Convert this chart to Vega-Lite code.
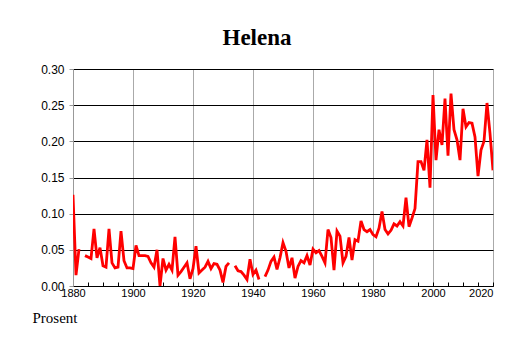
{
  "$schema": "https://vega.github.io/schema/vega-lite/v6.json",
  "autosize": "none",
  "width": 420,
  "height": 217,
  "padding": {"left": 73, "top": 69, "right": 21, "bottom": 57},
  "background": "white",
  "title": {"text": "Helena", "font": "Liberation Serif", "fontSize": 23, "fontWeight": "bold", "color": "black", "anchor": "middle", "dx": -26, "offset": 13},
  "data": {"values": [
    {"year":1880,"v":0.126},{"year":1881,"v":0.015},{"year":1882,"v":0.051},{"year":1883,"v":null},{"year":1884,"v":0.042},
    {"year":1885,"v":0.040},{"year":1886,"v":0.038},{"year":1887,"v":0.079},{"year":1888,"v":0.039},{"year":1889,"v":0.053},
    {"year":1890,"v":0.028},{"year":1891,"v":0.026},{"year":1892,"v":0.079},{"year":1893,"v":0.032},{"year":1894,"v":0.025},
    {"year":1895,"v":0.026},{"year":1896,"v":0.076},{"year":1897,"v":0.035},{"year":1898,"v":0.025},{"year":1899,"v":0.025},
    {"year":1900,"v":0.024},{"year":1901,"v":0.056},{"year":1902,"v":0.042},{"year":1903,"v":0.042},{"year":1904,"v":0.042},
    {"year":1905,"v":0.041},{"year":1906,"v":0.032},{"year":1907,"v":0.026},{"year":1908,"v":0.050},{"year":1909,"v":0.000},
    {"year":1910,"v":0.038},{"year":1911,"v":0.022},{"year":1912,"v":0.030},{"year":1913,"v":0.022},{"year":1914,"v":0.068},
    {"year":1915,"v":0.015},{"year":1916,"v":0.020},{"year":1917,"v":0.026},{"year":1918,"v":0.032},{"year":1919,"v":0.010},
    {"year":1920,"v":0.024},{"year":1921,"v":0.055},{"year":1922,"v":0.018},{"year":1923,"v":0.022},{"year":1924,"v":0.026},
    {"year":1925,"v":0.034},{"year":1926,"v":0.024},{"year":1927,"v":0.031},{"year":1928,"v":0.030},{"year":1929,"v":0.022},
    {"year":1930,"v":0.005},{"year":1931,"v":0.027},{"year":1932,"v":0.032},{"year":1933,"v":null},{"year":1934,"v":0.028},
    {"year":1935,"v":0.021},{"year":1936,"v":0.020},{"year":1937,"v":0.015},{"year":1938,"v":0.009},{"year":1939,"v":0.037},
    {"year":1940,"v":0.016},{"year":1941,"v":0.022},{"year":1942,"v":0.009},{"year":1943,"v":null},{"year":1944,"v":0.013},
    {"year":1945,"v":0.022},{"year":1946,"v":0.034},{"year":1947,"v":0.040},{"year":1948,"v":0.023},{"year":1949,"v":0.039},
    {"year":1950,"v":0.060},{"year":1951,"v":0.048},{"year":1952,"v":0.025},{"year":1953,"v":0.039},{"year":1954,"v":0.011},
    {"year":1955,"v":0.027},{"year":1956,"v":0.035},{"year":1957,"v":0.032},{"year":1958,"v":0.042},{"year":1959,"v":0.029},
    {"year":1960,"v":0.051},{"year":1961,"v":0.046},{"year":1962,"v":0.049},{"year":1963,"v":0.041},{"year":1964,"v":0.032},
    {"year":1965,"v":0.078},{"year":1966,"v":0.067},{"year":1967,"v":0.022},{"year":1968,"v":0.076},{"year":1969,"v":0.069},
    {"year":1970,"v":0.032},{"year":1971,"v":0.041},{"year":1972,"v":0.067},{"year":1973,"v":0.036},{"year":1974,"v":0.064},
    {"year":1975,"v":0.062},{"year":1976,"v":0.090},{"year":1977,"v":0.078},{"year":1978,"v":0.075},{"year":1979,"v":0.078},
    {"year":1980,"v":0.071},{"year":1981,"v":0.068},{"year":1982,"v":0.080},{"year":1983,"v":0.103},{"year":1984,"v":0.078},
    {"year":1985,"v":0.072},{"year":1986,"v":0.077},{"year":1987,"v":0.086},{"year":1988,"v":0.083},{"year":1989,"v":0.089},
    {"year":1990,"v":0.083},{"year":1991,"v":0.122},{"year":1992,"v":0.082},{"year":1993,"v":0.094},{"year":1994,"v":0.107},
    {"year":1995,"v":0.172},{"year":1996,"v":0.172},{"year":1997,"v":0.160},{"year":1998,"v":0.202},{"year":1999,"v":0.136},
    {"year":2000,"v":0.264},{"year":2001,"v":0.174},{"year":2002,"v":0.216},{"year":2003,"v":0.195},{"year":2004,"v":0.259},
    {"year":2005,"v":0.180},{"year":2006,"v":0.266},{"year":2007,"v":0.216},{"year":2008,"v":0.202},{"year":2009,"v":0.174},
    {"year":2010,"v":0.245},{"year":2011,"v":0.220},{"year":2012,"v":0.226},{"year":2013,"v":0.225},{"year":2014,"v":0.206},
    {"year":2015,"v":0.152},{"year":2016,"v":0.188},{"year":2017,"v":0.200},{"year":2018,"v":0.253},{"year":2019,"v":0.211},
    {"year":2020,"v":0.160}
  ]},
  "mark": {"type": "line", "color": "#ff0000", "strokeWidth": 2.8, "invalid": "break-paths-show-domains", "clip": true},
  "encoding": {
    "x": {
      "field": "year", "type": "quantitative",
      "scale": {"domain": [1880, 2020], "nice": false, "zero": false},
      "axis": {
        "title": null,
        "values": [1880,1885,1890,1895,1900,1905,1910,1915,1920,1925,1930,1935,1940,1945,1950,1955,1960,1965,1970,1975,1980,1985,1990,1995,2000,2005,2010,2015,2020],
        "labelExpr": "datum.value % 20 === 0 ? datum.value : ''",
        "labelAlign": {"condition": {"test": "datum.value === 2020", "value": "right"}, "value": "center"},
        "labelFont": "Liberation Sans", "labelFontSize": 11, "labelColor": "black",
        "labelPadding": 5, "labelFlush": false, "labelOverlap": false,
        "domainColor": "black", "domainWidth": 1.2,
        "tickColor": "black", "tickSize": -4,
        "grid": true,
        "gridColor": "#aaaaaa",
        "gridOpacity": {"condition": {"test": "datum.value % 20 === 0 && datum.value > 1880", "value": 1}, "value": 0},
        "gridWidth": 1
      }
    },
    "y": {
      "field": "v", "type": "quantitative",
      "scale": {"domain": [0, 0.3], "nice": false},
      "axis": {
        "title": "Prosent",
        "titleAngle": 0, "titleX": -41, "titleY": 253, "titleAlign": "left", "titleBaseline": "alphabetic",
        "titleFont": "Liberation Serif", "titleFontSize": 15, "titleFontWeight": "normal", "titleColor": "black",
        "values": [0, 0.05, 0.1, 0.15, 0.2, 0.25, 0.3],
        "format": ".2f",
        "labelFont": "Liberation Sans", "labelFontSize": 12, "labelColor": "black", "labelPadding": 5,
        "domainColor": "#999999", "tickColor": "#999999", "tickSize": 4,
        "grid": true, "gridColor": "black", "gridWidth": 1
      }
    }
  },
  "config": {"view": {"stroke": null}}
}
